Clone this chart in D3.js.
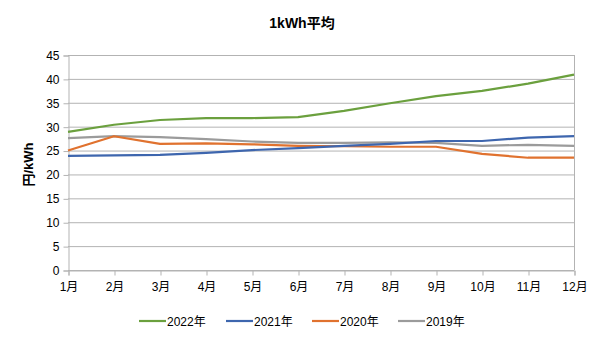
<!DOCTYPE html>
<html>
<head>
<meta charset="utf-8">
<script src="https://cdn.jsdelivr.net/npm/d3@7/dist/d3.min.js"></script>
<style>
  html, body { margin: 0; padding: 0; background: #fff; }
  svg { display: block; font-family: "Liberation Sans", Arial, "Noto Sans CJK JP", sans-serif; }
</style>
</head>
<body>
<svg id="chart" width="605" height="340"></svg>
<script>
// Monthly average price per kWh, by year
const months = ["1月","2月","3月","4月","5月","6月","7月","8月","9月","10月","11月","12月"];
const y2022 = [28.9, 30.4, 31.4, 31.8, 31.8, 32.0, 33.3, 34.9, 36.4, 37.5, 39.0, 40.9];
const y2021 = [23.9, 24.0, 24.1, 24.5, 25.1, 25.5, 26.0, 26.4, 27.0, 27.0, 27.7, 28.0];
const y2020 = [25.0, 28.0, 26.4, 26.5, 26.3, 26.0, 25.9, 25.8, 25.8, 24.3, 23.5, 23.5];
const y2019 = [27.6, 28.0, 27.8, 27.4, 26.9, 26.6, 26.6, 26.7, 26.6, 26.0, 26.2, 26.0];
const yTicks = [0, 5, 10, 15, 20, 25, 30, 35, 40, 45];

const seriesNames = ["2022年", "2021年", "2020年", "2019年"];
const seriesValues = [y2022, y2021, y2020, y2019];
const seriesColors = ["#6ba03e", "#3e66ae", "#e0722f", "#9b9b9b"];

const svg = d3.select("#chart");
const plot = { left: 68, right: 574, top: 55, bottom: 270 };

const x = d3.scalePoint().domain(months).range([plot.left, plot.right]);
const y = d3.scaleLinear().domain([0, 45]).range([plot.bottom, plot.top]);

// Title
svg.append("text")
  .attr("x", 302).attr("y", 28)
  .attr("text-anchor", "middle")
  .attr("font-size", 14).attr("font-weight", "bold")
  .attr("fill", "#000")
  .text("1kWh平均");

// Horizontal gridlines
svg.append("g").selectAll("line").data(yTicks).join("line")
  .attr("x1", plot.left).attr("x2", plot.right)
  .attr("y1", d => y(d) + 0.5).attr("y2", d => y(d) + 0.5)
  .attr("stroke", "#b3b3b3").attr("stroke-width", 1);

// Right border of plot area
svg.append("line")
  .attr("x1", plot.right + 0.5).attr("x2", plot.right + 0.5)
  .attr("y1", y(45)).attr("y2", y(0))
  .attr("stroke", "#b3b3b3");

// Y axis
const yAxis = svg.append("g")
  .attr("transform", `translate(${plot.left + 0.5},0.5)`)
  .call(d3.axisLeft(y).tickValues(yTicks).tickSize(5).tickPadding(4));
yAxis.select(".domain").attr("stroke", "#b3b3b3");
yAxis.selectAll(".tick line").attr("stroke", "#b3b3b3");
yAxis.selectAll(".tick text").attr("font-size", 12).attr("fill", "#000")
  .attr("font-family", "Liberation Sans, Arial, sans-serif");

// X axis
const xAxis = svg.append("g")
  .attr("transform", `translate(0.5,${plot.bottom + 0.5})`)
  .call(d3.axisBottom(x).tickSize(5).tickPadding(7));
xAxis.select(".domain").attr("stroke", "#b3b3b3");
xAxis.selectAll(".tick line").attr("stroke", "#b3b3b3");
xAxis.selectAll(".tick text").attr("font-size", 12).attr("fill", "#000")
  .attr("font-family", "Liberation Sans, Arial, \"Noto Sans CJK JP\", sans-serif");

// Y axis title
svg.append("text")
  .attr("transform", `translate(33,${(plot.top + plot.bottom) / 2 + 2}) rotate(-90)`)
  .attr("text-anchor", "middle")
  .attr("font-size", 13).attr("font-weight", "bold")
  .attr("fill", "#000")
  .text("円/kWh");

// Series lines (drawn oldest first so 2022 sits on top)
const line = d3.line().x((d, i) => x(months[i])).y(d => y(d));
const order = [3, 2, 1, 0];
svg.append("g").selectAll("path").data(order).join("path")
  .attr("d", i => line(seriesValues[i]))
  .attr("fill", "none")
  .attr("stroke", i => seriesColors[i])
  .attr("stroke-width", 2.2)
  .attr("stroke-linejoin", "round");

// Legend
const legendX = [139, 226, 312, 398];
const legend = svg.append("g").selectAll("g").data(seriesNames).join("g")
  .attr("transform", (d, i) => `translate(${legendX[i]},321)`);
legend.append("line")
  .attr("x1", 0).attr("x2", 27).attr("y1", 0).attr("y2", 0)
  .attr("stroke", (d, i) => seriesColors[i]).attr("stroke-width", 2.2);
legend.append("text")
  .attr("x", 28).attr("y", 4.5)
  .attr("font-size", 12).attr("fill", "#000")
  .text(d => d);
</script>
</body>
</html>
